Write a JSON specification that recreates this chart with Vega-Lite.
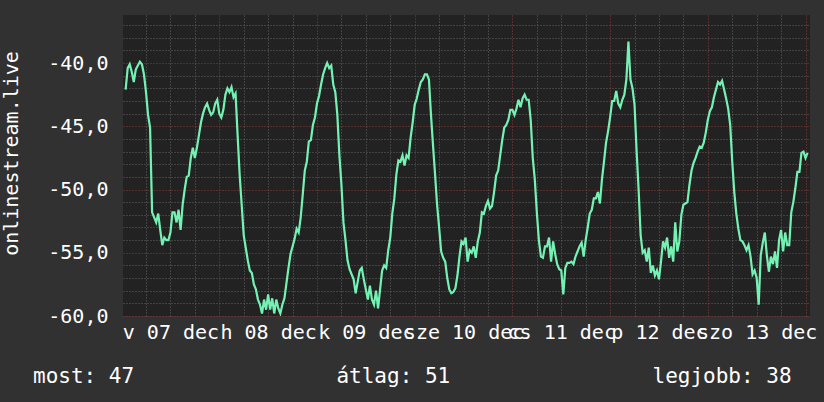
{
"$schema": "https://vega.github.io/schema/vega-lite/v6.json",
"width": 687, "height": 301,
"autosize": {"type": "none"},
"padding": {"left": 123, "top": 15, "right": 14, "bottom": 86},
"background": "#313131",
"config": {"view": {"fill": "#222222", "stroke": null}},
"title": {"text": "most: 47\u00a0\u00a0\u00a0\u00a0\u00a0\u00a0\u00a0\u00a0\u00a0\u00a0\u00a0\u00a0\u00a0\u00a0\u00a0\u00a0átlag: 51\u00a0\u00a0\u00a0\u00a0\u00a0\u00a0\u00a0\u00a0\u00a0\u00a0\u00a0\u00a0\u00a0\u00a0\u00a0\u00a0legjobb: 38", "orient": "bottom", "anchor": "start", "frame": "group", "dx": -90, "offset": 24, "font": "DejaVu Sans Mono", "fontSize": 21, "fontWeight": "normal", "color": "#ffffff"},
"data": {"values": [
{"t":"2014-12-07T01:00:00Z","v":-42.1},{"t":"2014-12-07T01:30:00Z","v":-40.4},{"t":"2014-12-07T02:00:00Z","v":-40.1},{"t":"2014-12-07T02:30:00Z","v":-40.7},{"t":"2014-12-07T03:00:00Z","v":-41.5},{"t":"2014-12-07T03:30:00Z","v":-40.5},{"t":"2014-12-07T04:00:00Z","v":-40.2},{"t":"2014-12-07T04:30:00Z","v":-39.9},{"t":"2014-12-07T05:00:00Z","v":-40.1},{"t":"2014-12-07T05:30:00Z","v":-40.9},{"t":"2014-12-07T06:00:00Z","v":-42.3},{"t":"2014-12-07T06:30:00Z","v":-44.1},{"t":"2014-12-07T07:00:00Z","v":-45.1},{"t":"2014-12-07T07:30:00Z","v":-51.8},{"t":"2014-12-07T08:00:00Z","v":-52.2},{"t":"2014-12-07T08:30:00Z","v":-52.6},{"t":"2014-12-07T09:00:00Z","v":-51.9},{"t":"2014-12-07T09:30:00Z","v":-53.2},{"t":"2014-12-07T10:00:00Z","v":-54.4},{"t":"2014-12-07T10:30:00Z","v":-53.8},{"t":"2014-12-07T11:00:00Z","v":-54.0},{"t":"2014-12-07T11:30:00Z","v":-54.0},{"t":"2014-12-07T12:00:00Z","v":-53.4},{"t":"2014-12-07T12:30:00Z","v":-51.8},{"t":"2014-12-07T13:00:00Z","v":-51.8},{"t":"2014-12-07T13:30:00Z","v":-52.6},{"t":"2014-12-07T14:00:00Z","v":-51.6},{"t":"2014-12-07T14:30:00Z","v":-53.2},{"t":"2014-12-07T15:00:00Z","v":-51.2},{"t":"2014-12-07T15:30:00Z","v":-50.0},{"t":"2014-12-07T16:00:00Z","v":-49.0},{"t":"2014-12-07T16:30:00Z","v":-48.9},{"t":"2014-12-07T17:00:00Z","v":-47.5},{"t":"2014-12-07T17:30:00Z","v":-46.7},{"t":"2014-12-07T18:00:00Z","v":-47.5},{"t":"2014-12-07T18:30:00Z","v":-46.7},{"t":"2014-12-07T19:00:00Z","v":-45.7},{"t":"2014-12-07T19:30:00Z","v":-44.7},{"t":"2014-12-07T20:00:00Z","v":-44.0},{"t":"2014-12-07T20:30:00Z","v":-43.5},{"t":"2014-12-07T21:00:00Z","v":-43.2},{"t":"2014-12-07T21:30:00Z","v":-43.7},{"t":"2014-12-07T22:00:00Z","v":-44.1},{"t":"2014-12-07T22:30:00Z","v":-43.9},{"t":"2014-12-07T23:00:00Z","v":-43.2},{"t":"2014-12-07T23:30:00Z","v":-42.9},
{"t":"2014-12-08T00:00:00Z","v":-44.0},{"t":"2014-12-08T00:30:00Z","v":-44.3},{"t":"2014-12-08T01:00:00Z","v":-43.7},{"t":"2014-12-08T01:30:00Z","v":-42.5},{"t":"2014-12-08T02:00:00Z","v":-42.0},{"t":"2014-12-08T02:30:00Z","v":-42.3},{"t":"2014-12-08T03:00:00Z","v":-41.9},{"t":"2014-12-08T03:30:00Z","v":-42.7},{"t":"2014-12-08T04:00:00Z","v":-42.4},{"t":"2014-12-08T04:30:00Z","v":-45.7},{"t":"2014-12-08T05:00:00Z","v":-48.8},{"t":"2014-12-08T05:30:00Z","v":-51.2},{"t":"2014-12-08T06:00:00Z","v":-53.6},{"t":"2014-12-08T06:30:00Z","v":-54.6},{"t":"2014-12-08T07:00:00Z","v":-55.6},{"t":"2014-12-08T07:30:00Z","v":-56.4},{"t":"2014-12-08T08:00:00Z","v":-56.6},{"t":"2014-12-08T08:30:00Z","v":-57.5},{"t":"2014-12-08T09:00:00Z","v":-57.9},{"t":"2014-12-08T09:30:00Z","v":-58.7},{"t":"2014-12-08T10:00:00Z","v":-59.1},{"t":"2014-12-08T10:30:00Z","v":-59.8},{"t":"2014-12-08T11:00:00Z","v":-58.7},{"t":"2014-12-08T11:30:00Z","v":-59.5},{"t":"2014-12-08T12:00:00Z","v":-58.3},{"t":"2014-12-08T12:30:00Z","v":-59.5},{"t":"2014-12-08T13:00:00Z","v":-58.6},{"t":"2014-12-08T13:30:00Z","v":-59.8},{"t":"2014-12-08T14:00:00Z","v":-58.7},{"t":"2014-12-08T14:30:00Z","v":-59.4},{"t":"2014-12-08T15:00:00Z","v":-59.8},{"t":"2014-12-08T15:30:00Z","v":-59.1},{"t":"2014-12-08T16:00:00Z","v":-58.6},{"t":"2014-12-08T16:30:00Z","v":-57.4},{"t":"2014-12-08T17:00:00Z","v":-56.2},{"t":"2014-12-08T17:30:00Z","v":-55.1},{"t":"2014-12-08T18:00:00Z","v":-54.5},{"t":"2014-12-08T18:30:00Z","v":-53.9},{"t":"2014-12-08T19:00:00Z","v":-53.1},{"t":"2014-12-08T19:30:00Z","v":-53.4},{"t":"2014-12-08T20:00:00Z","v":-52.2},{"t":"2014-12-08T20:30:00Z","v":-50.4},{"t":"2014-12-08T21:00:00Z","v":-48.5},{"t":"2014-12-08T21:30:00Z","v":-47.8},{"t":"2014-12-08T22:00:00Z","v":-46.2},{"t":"2014-12-08T22:30:00Z","v":-46.1},{"t":"2014-12-08T23:00:00Z","v":-44.9},{"t":"2014-12-08T23:30:00Z","v":-44.3},
{"t":"2014-12-09T00:00:00Z","v":-43.2},{"t":"2014-12-09T00:30:00Z","v":-42.6},{"t":"2014-12-09T01:00:00Z","v":-41.7},{"t":"2014-12-09T01:30:00Z","v":-40.9},{"t":"2014-12-09T02:00:00Z","v":-40.4},{"t":"2014-12-09T02:30:00Z","v":-40.0},{"t":"2014-12-09T03:00:00Z","v":-40.4},{"t":"2014-12-09T03:30:00Z","v":-40.2},{"t":"2014-12-09T04:00:00Z","v":-41.7},{"t":"2014-12-09T04:30:00Z","v":-42.3},{"t":"2014-12-09T05:00:00Z","v":-44.1},{"t":"2014-12-09T05:30:00Z","v":-47.3},{"t":"2014-12-09T06:00:00Z","v":-49.6},{"t":"2014-12-09T06:30:00Z","v":-52.6},{"t":"2014-12-09T07:00:00Z","v":-54.0},{"t":"2014-12-09T07:30:00Z","v":-55.6},{"t":"2014-12-09T08:00:00Z","v":-56.3},{"t":"2014-12-09T08:30:00Z","v":-56.7},{"t":"2014-12-09T09:00:00Z","v":-57.1},{"t":"2014-12-09T09:30:00Z","v":-58.2},{"t":"2014-12-09T10:00:00Z","v":-57.3},{"t":"2014-12-09T10:30:00Z","v":-56.4},{"t":"2014-12-09T11:00:00Z","v":-56.2},{"t":"2014-12-09T11:30:00Z","v":-57.1},{"t":"2014-12-09T12:00:00Z","v":-57.9},{"t":"2014-12-09T12:30:00Z","v":-58.7},{"t":"2014-12-09T13:00:00Z","v":-57.6},{"t":"2014-12-09T13:30:00Z","v":-58.7},{"t":"2014-12-09T14:00:00Z","v":-59.1},{"t":"2014-12-09T14:30:00Z","v":-58.0},{"t":"2014-12-09T15:00:00Z","v":-59.4},{"t":"2014-12-09T15:30:00Z","v":-57.9},{"t":"2014-12-09T16:00:00Z","v":-56.4},{"t":"2014-12-09T16:30:00Z","v":-56.0},{"t":"2014-12-09T17:00:00Z","v":-56.2},{"t":"2014-12-09T17:30:00Z","v":-54.8},{"t":"2014-12-09T18:00:00Z","v":-53.8},{"t":"2014-12-09T18:30:00Z","v":-51.9},{"t":"2014-12-09T19:00:00Z","v":-50.7},{"t":"2014-12-09T19:30:00Z","v":-48.8},{"t":"2014-12-09T20:00:00Z","v":-47.7},{"t":"2014-12-09T20:30:00Z","v":-47.8},{"t":"2014-12-09T21:00:00Z","v":-47.3},{"t":"2014-12-09T21:30:00Z","v":-48.1},{"t":"2014-12-09T22:00:00Z","v":-47.3},{"t":"2014-12-09T22:30:00Z","v":-47.5},{"t":"2014-12-09T23:00:00Z","v":-45.9},{"t":"2014-12-09T23:30:00Z","v":-44.7},
{"t":"2014-12-10T00:00:00Z","v":-43.3},{"t":"2014-12-10T00:30:00Z","v":-42.8},{"t":"2014-12-10T01:00:00Z","v":-42.1},{"t":"2014-12-10T01:30:00Z","v":-41.5},{"t":"2014-12-10T02:00:00Z","v":-41.3},{"t":"2014-12-10T02:30:00Z","v":-40.9},{"t":"2014-12-10T03:00:00Z","v":-40.9},{"t":"2014-12-10T03:30:00Z","v":-41.3},{"t":"2014-12-10T04:00:00Z","v":-44.1},{"t":"2014-12-10T04:30:00Z","v":-46.5},{"t":"2014-12-10T05:00:00Z","v":-48.8},{"t":"2014-12-10T05:30:00Z","v":-51.2},{"t":"2014-12-10T06:00:00Z","v":-53.0},{"t":"2014-12-10T06:30:00Z","v":-54.9},{"t":"2014-12-10T07:00:00Z","v":-55.4},{"t":"2014-12-10T07:30:00Z","v":-55.7},{"t":"2014-12-10T08:00:00Z","v":-57.0},{"t":"2014-12-10T08:30:00Z","v":-57.9},{"t":"2014-12-10T09:00:00Z","v":-58.2},{"t":"2014-12-10T09:30:00Z","v":-58.1},{"t":"2014-12-10T10:00:00Z","v":-57.8},{"t":"2014-12-10T10:30:00Z","v":-56.8},{"t":"2014-12-10T11:00:00Z","v":-55.3},{"t":"2014-12-10T11:30:00Z","v":-54.1},{"t":"2014-12-10T12:00:00Z","v":-54.3},{"t":"2014-12-10T12:30:00Z","v":-53.8},{"t":"2014-12-10T13:00:00Z","v":-55.7},{"t":"2014-12-10T13:30:00Z","v":-54.8},{"t":"2014-12-10T14:00:00Z","v":-55.0},{"t":"2014-12-10T14:30:00Z","v":-54.5},{"t":"2014-12-10T15:00:00Z","v":-55.4},{"t":"2014-12-10T15:30:00Z","v":-54.1},{"t":"2014-12-10T16:00:00Z","v":-53.4},{"t":"2014-12-10T16:30:00Z","v":-51.8},{"t":"2014-12-10T17:00:00Z","v":-51.9},{"t":"2014-12-10T17:30:00Z","v":-51.3},{"t":"2014-12-10T18:00:00Z","v":-50.9},{"t":"2014-12-10T18:30:00Z","v":-51.5},{"t":"2014-12-10T19:00:00Z","v":-51.3},{"t":"2014-12-10T19:30:00Z","v":-50.2},{"t":"2014-12-10T20:00:00Z","v":-48.9},{"t":"2014-12-10T20:30:00Z","v":-48.5},{"t":"2014-12-10T21:00:00Z","v":-47.3},{"t":"2014-12-10T21:30:00Z","v":-46.1},{"t":"2014-12-10T22:00:00Z","v":-45.1},{"t":"2014-12-10T22:30:00Z","v":-44.9},{"t":"2014-12-10T23:00:00Z","v":-44.5},{"t":"2014-12-10T23:30:00Z","v":-43.7},
{"t":"2014-12-11T00:00:00Z","v":-43.7},{"t":"2014-12-11T00:30:00Z","v":-44.1},{"t":"2014-12-11T01:00:00Z","v":-43.6},{"t":"2014-12-11T01:30:00Z","v":-42.9},{"t":"2014-12-11T02:00:00Z","v":-43.5},{"t":"2014-12-11T02:30:00Z","v":-42.8},{"t":"2014-12-11T03:00:00Z","v":-42.5},{"t":"2014-12-11T03:30:00Z","v":-42.9},{"t":"2014-12-11T04:00:00Z","v":-42.9},{"t":"2014-12-11T04:30:00Z","v":-44.5},{"t":"2014-12-11T05:00:00Z","v":-47.5},{"t":"2014-12-11T05:30:00Z","v":-49.2},{"t":"2014-12-11T06:00:00Z","v":-51.8},{"t":"2014-12-11T06:30:00Z","v":-54.0},{"t":"2014-12-11T07:00:00Z","v":-55.3},{"t":"2014-12-11T07:30:00Z","v":-55.4},{"t":"2014-12-11T08:00:00Z","v":-54.5},{"t":"2014-12-11T08:30:00Z","v":-54.5},{"t":"2014-12-11T09:00:00Z","v":-53.8},{"t":"2014-12-11T09:30:00Z","v":-55.7},{"t":"2014-12-11T10:00:00Z","v":-54.1},{"t":"2014-12-11T10:30:00Z","v":-55.1},{"t":"2014-12-11T11:00:00Z","v":-55.9},{"t":"2014-12-11T11:30:00Z","v":-56.3},{"t":"2014-12-11T12:00:00Z","v":-56.4},{"t":"2014-12-11T12:30:00Z","v":-58.3},{"t":"2014-12-11T13:00:00Z","v":-56.2},{"t":"2014-12-11T13:30:00Z","v":-55.8},{"t":"2014-12-11T14:00:00Z","v":-55.8},{"t":"2014-12-11T14:30:00Z","v":-55.7},{"t":"2014-12-11T15:00:00Z","v":-55.9},{"t":"2014-12-11T15:30:00Z","v":-55.3},{"t":"2014-12-11T16:00:00Z","v":-54.9},{"t":"2014-12-11T16:30:00Z","v":-54.5},{"t":"2014-12-11T17:00:00Z","v":-54.2},{"t":"2014-12-11T17:30:00Z","v":-55.3},{"t":"2014-12-11T18:00:00Z","v":-54.0},{"t":"2014-12-11T18:30:00Z","v":-53.0},{"t":"2014-12-11T19:00:00Z","v":-51.9},{"t":"2014-12-11T19:30:00Z","v":-51.6},{"t":"2014-12-11T20:00:00Z","v":-50.7},{"t":"2014-12-11T20:30:00Z","v":-50.7},{"t":"2014-12-11T21:00:00Z","v":-50.2},{"t":"2014-12-11T21:30:00Z","v":-51.1},{"t":"2014-12-11T22:00:00Z","v":-49.2},{"t":"2014-12-11T22:30:00Z","v":-47.8},{"t":"2014-12-11T23:00:00Z","v":-46.3},{"t":"2014-12-11T23:30:00Z","v":-45.4},
{"t":"2014-12-12T00:00:00Z","v":-44.3},{"t":"2014-12-12T00:30:00Z","v":-43.0},{"t":"2014-12-12T01:00:00Z","v":-43.0},{"t":"2014-12-12T01:30:00Z","v":-42.2},{"t":"2014-12-12T02:00:00Z","v":-43.2},{"t":"2014-12-12T02:30:00Z","v":-43.5},{"t":"2014-12-12T03:00:00Z","v":-42.9},{"t":"2014-12-12T03:30:00Z","v":-42.5},{"t":"2014-12-12T04:00:00Z","v":-41.3},{"t":"2014-12-12T04:30:00Z","v":-38.3},{"t":"2014-12-12T05:00:00Z","v":-41.3},{"t":"2014-12-12T05:30:00Z","v":-42.0},{"t":"2014-12-12T06:00:00Z","v":-43.3},{"t":"2014-12-12T06:30:00Z","v":-46.9},{"t":"2014-12-12T07:00:00Z","v":-50.0},{"t":"2014-12-12T07:30:00Z","v":-53.6},{"t":"2014-12-12T08:00:00Z","v":-55.0},{"t":"2014-12-12T08:30:00Z","v":-54.8},{"t":"2014-12-12T09:00:00Z","v":-55.7},{"t":"2014-12-12T09:30:00Z","v":-54.6},{"t":"2014-12-12T10:00:00Z","v":-56.6},{"t":"2014-12-12T10:30:00Z","v":-56.0},{"t":"2014-12-12T11:00:00Z","v":-56.8},{"t":"2014-12-12T11:30:00Z","v":-56.4},{"t":"2014-12-12T12:00:00Z","v":-57.1},{"t":"2014-12-12T12:30:00Z","v":-55.7},{"t":"2014-12-12T13:00:00Z","v":-54.1},{"t":"2014-12-12T13:30:00Z","v":-54.6},{"t":"2014-12-12T14:00:00Z","v":-53.8},{"t":"2014-12-12T14:30:00Z","v":-55.4},{"t":"2014-12-12T15:00:00Z","v":-54.5},{"t":"2014-12-12T15:30:00Z","v":-55.7},{"t":"2014-12-12T16:00:00Z","v":-52.6},{"t":"2014-12-12T16:30:00Z","v":-54.9},{"t":"2014-12-12T17:00:00Z","v":-54.1},{"t":"2014-12-12T17:30:00Z","v":-52.0},{"t":"2014-12-12T18:00:00Z","v":-51.2},{"t":"2014-12-12T18:30:00Z","v":-51.1},{"t":"2014-12-12T19:00:00Z","v":-51.0},{"t":"2014-12-12T19:30:00Z","v":-49.6},{"t":"2014-12-12T20:00:00Z","v":-48.5},{"t":"2014-12-12T20:30:00Z","v":-47.9},{"t":"2014-12-12T21:00:00Z","v":-47.5},{"t":"2014-12-12T21:30:00Z","v":-47.0},{"t":"2014-12-12T22:00:00Z","v":-46.6},{"t":"2014-12-12T22:30:00Z","v":-46.7},{"t":"2014-12-12T23:00:00Z","v":-46.3},{"t":"2014-12-12T23:30:00Z","v":-45.5},
{"t":"2014-12-13T00:00:00Z","v":-44.5},{"t":"2014-12-13T00:30:00Z","v":-43.8},{"t":"2014-12-13T01:00:00Z","v":-43.5},{"t":"2014-12-13T01:30:00Z","v":-42.7},{"t":"2014-12-13T02:00:00Z","v":-42.1},{"t":"2014-12-13T02:30:00Z","v":-41.5},{"t":"2014-12-13T03:00:00Z","v":-41.7},{"t":"2014-12-13T03:30:00Z","v":-41.4},{"t":"2014-12-13T04:00:00Z","v":-42.1},{"t":"2014-12-13T04:30:00Z","v":-42.8},{"t":"2014-12-13T05:00:00Z","v":-43.6},{"t":"2014-12-13T05:30:00Z","v":-44.9},{"t":"2014-12-13T06:00:00Z","v":-47.8},{"t":"2014-12-13T06:30:00Z","v":-50.2},{"t":"2014-12-13T07:00:00Z","v":-51.9},{"t":"2014-12-13T07:30:00Z","v":-53.1},{"t":"2014-12-13T08:00:00Z","v":-54.0},{"t":"2014-12-13T08:30:00Z","v":-54.1},{"t":"2014-12-13T09:00:00Z","v":-54.4},{"t":"2014-12-13T09:30:00Z","v":-54.8},{"t":"2014-12-13T10:00:00Z","v":-54.4},{"t":"2014-12-13T10:30:00Z","v":-55.3},{"t":"2014-12-13T11:00:00Z","v":-56.7},{"t":"2014-12-13T11:30:00Z","v":-56.4},{"t":"2014-12-13T12:00:00Z","v":-57.0},{"t":"2014-12-13T12:30:00Z","v":-59.1},{"t":"2014-12-13T13:00:00Z","v":-55.2},{"t":"2014-12-13T13:30:00Z","v":-54.2},{"t":"2014-12-13T14:00:00Z","v":-53.4},{"t":"2014-12-13T14:30:00Z","v":-55.2},{"t":"2014-12-13T15:00:00Z","v":-56.5},{"t":"2014-12-13T15:30:00Z","v":-55.3},{"t":"2014-12-13T16:00:00Z","v":-55.9},{"t":"2014-12-13T16:30:00Z","v":-54.9},{"t":"2014-12-13T17:00:00Z","v":-56.2},{"t":"2014-12-13T17:30:00Z","v":-54.0},{"t":"2014-12-13T18:00:00Z","v":-53.2},{"t":"2014-12-13T18:30:00Z","v":-54.9},{"t":"2014-12-13T19:00:00Z","v":-53.4},{"t":"2014-12-13T19:30:00Z","v":-54.4},{"t":"2014-12-13T20:00:00Z","v":-54.4},{"t":"2014-12-13T20:30:00Z","v":-51.8},{"t":"2014-12-13T21:00:00Z","v":-51.0},{"t":"2014-12-13T21:30:00Z","v":-49.9},{"t":"2014-12-13T22:00:00Z","v":-48.6},{"t":"2014-12-13T22:30:00Z","v":-48.6},{"t":"2014-12-13T23:00:00Z","v":-47.1},{"t":"2014-12-13T23:30:00Z","v":-47.0},
{"t":"2014-12-14T00:00:00Z","v":-47.5},{"t":"2014-12-14T00:30:00Z","v":-47.1}
]},
"mark": {"type": "line", "color": "#74f2b4", "strokeWidth": 2.2, "clip": true},
"encoding": {
"x": {"field": "t", "type": "temporal",
 "scale": {"type": "utc", "nice": false, "domain": [1417911660000, 1418519160000]},
 "axis": {"title": null,
  "values": [1417932000000,1417953600000,1417975200000,1417996800000,1418018400000,1418040000000,1418061600000,1418083200000,1418104800000,1418126400000,1418148000000,1418169600000,1418191200000,1418212800000,1418234400000,1418256000000,1418277600000,1418299200000,1418320800000,1418342400000,1418364000000,1418385600000,1418407200000,1418428800000,1418450400000,1418472000000,1418493600000,1418515200000],
  "grid": true,
  "gridColor": {"condition": {"test": "utchours(datum.value) == 0", "value": "#8a3a3a"}, "value": "#626262"},
  "gridDash": [1, 2], "gridWidth": 1, "ticks": false, "domain": false,
  "labelExpr": "utchours(datum.value) == 12 ? ['v','h','k','sze','cs','p','szo'][utcday(datum.value)] + ' ' + utcFormat(datum.value, '%d') + ' dec' : ''",
  "labelOverlap": false, "labelBound": false, "labelFlush": false, "labelPadding": 6, "labelAngle": 0,
  "labelFont": "DejaVu Sans Mono", "labelFontSize": 20, "labelColor": "#ffffff"}},
"y": {"field": "v", "type": "quantitative",
 "scale": {"domain": [-60, -36.2], "nice": false, "zero": false},
 "axis": {"values": [-60,-59,-58,-57,-56,-55,-54,-53,-52,-51,-50,-49,-48,-47,-46,-45,-44,-43,-42,-41,-40,-39,-38,-37],
  "title": "onlinestream.live", "grid": true,
  "gridColor": {"condition": {"test": "datum.value % 5 == 0", "value": "#8a3a3a"}, "value": "#626262"},
  "gridDash": [1, 2], "gridWidth": 1, "ticks": false, "domain": false,
  "labelExpr": "datum.value % 5 == 0 ? datum.value + ',0' : ''",
  "labelOverlap": false, "labelPadding": 15,
  "labelFont": "DejaVu Sans Mono", "labelFontSize": 20, "labelColor": "#ffffff",
  "titleFont": "DejaVu Sans Mono", "titleFontSize": 20, "titleFontWeight": "normal", "titleColor": "#ffffff",
  "titleX": -106, "titleY": 138, "titleBaseline": "alphabetic", "titleAngle": 270, "titleAlign": "center"}}
}
}
